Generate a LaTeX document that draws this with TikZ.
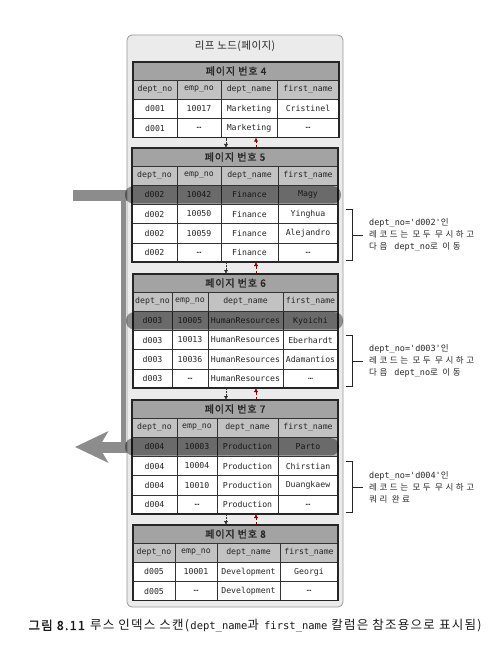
\documentclass[tikz,border=0pt]{standalone}
\usepackage{fontspec}
\setmainfont{Noto Sans CJK KR}[AutoFakeBold=1.5]
\setmonofont{DejaVu Sans Mono}
\newfontfamily\krtitle{Noto Sans CJK KR}[LetterSpace=4]
\newfontfamily\krhead{Noto Sans CJK KR}[LetterSpace=9, AutoFakeBold=1.8]
\newfontfamily\krnote{Noto Sans CJK KR}[LetterSpace=30]
\newfontfamily\krcap{Noto Sans CJK KR}[LetterSpace=10, AutoFakeBold=1.5]
\usetikzlibrary{arrows.meta}

\tikzset{
  leafbox/.style={draw=black!40, fill=black!8, rounded corners=5pt, line width=0.8pt},
  pagebar/.style={draw=black!80, fill=black!36},
  pagehead/.style={font=\krhead\bfseries\fontsize{10}{11}\selectfont, text=black!85},
  headcell/.style={fill=black!24},
  datacell/.style={fill=white},
  hitcell/.style={fill=black!30},
  cellrule/.style={draw=black!80, line width=0.5pt},
  celltext/.style={font=\ttfamily\fontsize{8.2}{10}\selectfont, text=black!85, inner sep=0pt},
  pageframe/.style={draw=black!85, line width=1.1pt},
  hitbar/.style={fill=black, opacity=0.4, rounded corners=8pt},
  scanline/.style={draw=black!45, line width=11pt},
  nextlink/.style={draw=black!80, densely dotted, -{Latex[length=4pt,width=4pt]}},
  prevlink/.style={draw=red!55!black, densely dashed, -{Latex[length=4pt,width=4pt]}},
  bracket/.style={draw=black!85, line width=1pt},
  note/.style={font=\krnote\fontsize{8.5}{12}\selectfont, align=left, anchor=west, inner sep=0pt, text=black!85},
}
\def\rh{19.2}
% one row of a page: name, top, cell style, four cells
\newcommand\tabrow[7]{%
  \foreach \l/\r/\t [count=\c] in {\xa/\xb/{#4},\xb/\xc/{#5},\xc/\xd/{#6},\xd/\xe/{#7}} {
    \draw[cellrule,#3] (\l,#2) rectangle (\r,#2+\rh);
    \node[celltext] (#1-\c) at ({(\l+\r)/2},#2+\rh/2) {\t};
  }%
}
% page number bar and column names
\newcommand\pagetop[3]{%
  \draw[pagebar] (\xa,#2) rectangle (\xe,#2+18);
  \node[pagehead] (#1) at ({(\xa+\xe)/2},#2+9) {페이지 번호 #3};
  \tabrow{#1h}{#2+18}{headcell}{dept\_no}{emp\_no}{dept\_name}{first\_name}%
  \coordinate (#1-nd) at (226,#2);
  \coordinate (#1-nu) at (256,#2);
}

\begin{document}
\begin{tikzpicture}[x=1pt,y=-1pt]
\useasboundingbox (0,0) rectangle (497,663);
\draw[leafbox] (127,35) rectangle (343,607);
\node[font=\krtitle\fontsize{10.5}{12}\selectfont, text=black!85] (leaf) at (235,46) {리프 노드(페이지)};

% scan path
\coordinate (scanin) at (73,195);
\coordinate (scanturn) at (123,195);
\coordinate (scandown) at (123,447);
\coordinate (scanout) at (75,447);
\draw[scanline] (scanin) -- ([xshift=4pt]scanturn);
\draw[scanline, line width=5pt] ([yshift=5pt]scanturn) -- ([yshift=-5pt]scandown);
\draw[scanline, -{Stealth[length=33pt,width=31pt,inset=9pt]}] ([xshift=4pt]scandown) -- (scanout);

% page 4
\def\xa{133}\def\xb{177}\def\xc{221}\def\xd{277}\def\xe{339}
\pagetop{p4}{62}{4}
\tabrow{p4a}{80+\rh}{datacell}{d001}{10017}{Marketing}{Cristinel}
\tabrow{p4b}{80+2*\rh}{datacell}{d001}{…}{Marketing}{…}
\draw[pageframe] (\xa,62) rectangle (\xe,80+3*\rh);
\coordinate (p4-sd) at (226,80+3*\rh);
\coordinate (p4-su) at (256,80+3*\rh);

% page 5
\def\xa{132}\def\xb{177}\def\xc{221}\def\xd{278}\def\xe{338}
\pagetop{p5}{148}{5}
\tabrow{p5a}{166+\rh}{hitcell}{d002}{10042}{Finance}{Magy}
\tabrow{p5b}{166+2*\rh}{datacell}{d002}{10050}{Finance}{Yinghua}
\tabrow{p5c}{166+3*\rh}{datacell}{d002}{10059}{Finance}{Alejandro}
\tabrow{p5d}{166+4*\rh}{datacell}{d002}{…}{Finance}{…}
\draw[pageframe] (\xa,148) rectangle (\xe,166+5*\rh);
\fill[hitbar] (\xa-7,166+\rh+1) rectangle (\xe+3,166+2*\rh-1);
\coordinate (p5-sd) at (226,166+5*\rh);
\coordinate (p5-su) at (256,166+5*\rh);

% page 6
\def\xa{133}\def\xb{172}\def\xc{208}\def\xd{283}\def\xe{338}
\pagetop{p6}{274}{6}
\tabrow{p6a}{292+\rh}{hitcell}{d003}{10005}{HumanResources}{Kyoichi}
\tabrow{p6b}{292+2*\rh}{datacell}{d003}{10013}{HumanResources}{Eberhardt}
\tabrow{p6c}{292+3*\rh}{datacell}{d003}{10036}{HumanResources}{Adamantios}
\tabrow{p6d}{292+4*\rh}{datacell}{d003}{…}{HumanResources}{…}
\draw[pageframe] (\xa,274) rectangle (\xe,292+5*\rh);
\fill[hitbar] (\xa-7,292+\rh+1) rectangle (\xe+5,292+2*\rh-1);
\coordinate (p6-sd) at (226,292+5*\rh);
\coordinate (p6-su) at (256,292+5*\rh);

% page 7
\def\xa{132}\def\xb{177}\def\xc{217}\def\xd{278}\def\xe{338}
\pagetop{p7}{400}{7}
\tabrow{p7a}{418+\rh}{hitcell}{d004}{10003}{Production}{Parto}
\tabrow{p7b}{418+2*\rh}{datacell}{d004}{10004}{Production}{Chirstian}
\tabrow{p7c}{418+3*\rh}{datacell}{d004}{10010}{Production}{Duangkaew}
\tabrow{p7d}{418+4*\rh}{datacell}{d004}{…}{Production}{…}
\draw[pageframe] (\xa,400) rectangle (\xe,418+5*\rh);
\fill[hitbar] (\xa-7,418+\rh+1) rectangle (\xe+1,418+2*\rh-1);
\coordinate (p7-sd) at (226,418+5*\rh);
\coordinate (p7-su) at (256,418+5*\rh);

% page 8
\def\xa{133}\def\xb{175}\def\xc{217}\def\xd{280}\def\xe{338}
\pagetop{p8}{525}{8}
\tabrow{p8a}{543+\rh}{datacell}{d005}{10001}{Development}{Georgi}
\tabrow{p8b}{543+2*\rh}{datacell}{d005}{…}{Development}{…}
\draw[pageframe] (\xa,525) rectangle (\xe,543+3*\rh);

% sibling links
\foreach \a/\b in {p4/p5,p5/p6,p6/p7,p7/p8} {
  \draw[nextlink] (\a-sd) -- (\b-nd);
  \draw[prevlink] (\b-nu) -- (\a-su);
}

% skipped records
\foreach \nm/\t/\b/\code/\last in {n5/204.4/262/d002/{다음 \texttt{dept\_no}로 이동},
    n6/330.4/388/d003/{다음 \texttt{dept\_no}로 이동},
    n7/456.4/514/d004/{쿼리 완료}} {
  \draw[bracket] (346,\t+5) -- (352,\t+5) -- (352,\b-2) -- (346,\b-2);
  \coordinate (\nm-tip) at (352,{(\t+\b)/2+2});
  \node[note] (\nm) at (369,{(\t+\b)/2+2}) {\texttt{\fontsize{8.5}{12}\selectfont dept\_no='\code'}인\\레코드는 모두 무시하고\\\last};
  \draw[bracket] (\nm-tip) -- ([xshift=-6pt]\nm.west);
}

\node[font=\krcap\fontsize{12.5}{14}\selectfont, text=black!90] (caption) at (255,626)
  {\textbf{그림 8.11} 루스 인덱스 스캔(\texttt{\fontsize{10.5}{14}\selectfont dept\_name}과 \texttt{\fontsize{10.5}{14}\selectfont first\_name} 칼럼은 참조용으로 표시됨)};
\end{tikzpicture}
\end{document}
